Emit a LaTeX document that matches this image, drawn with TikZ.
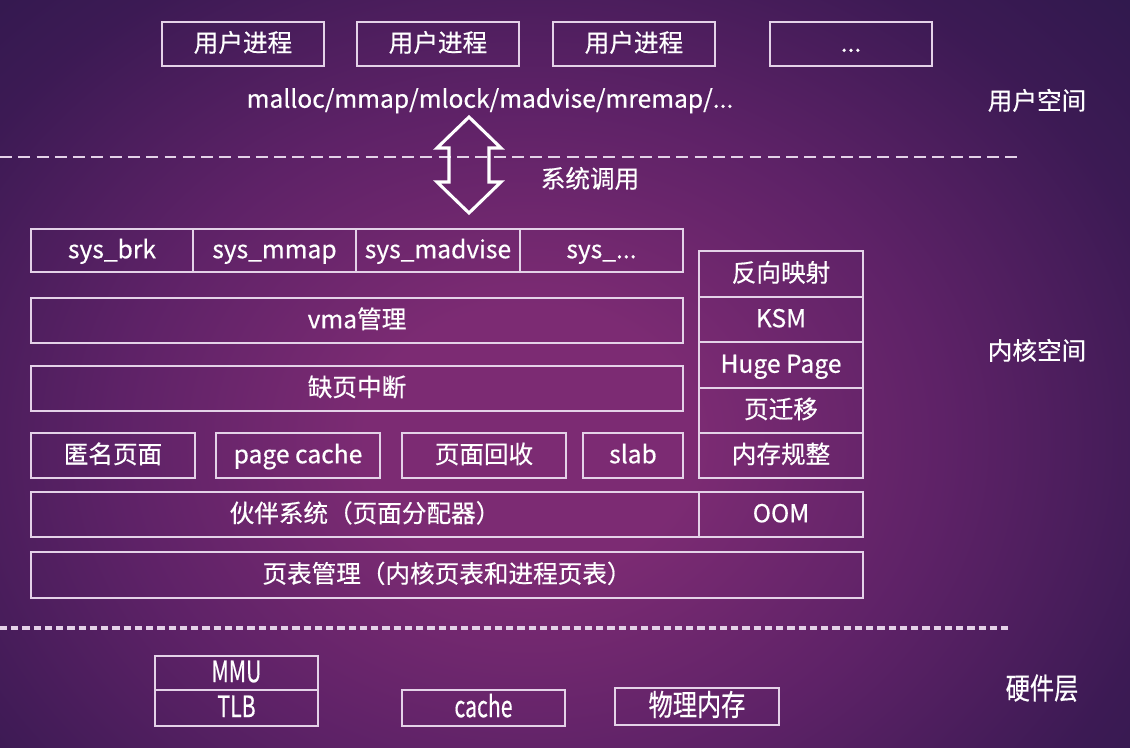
\documentclass[tikz,border=0pt]{standalone}
\usepackage{fontspec}
\setmainfont{Noto Sans CJK SC}[FakeBold=0.5]
\usetikzlibrary{fit}
\definecolor{lc}{HTML}{E4D2E8}
\definecolor{bgin}{HTML}{7C2B73}
\definecolor{bgmid}{HTML}{5E2267}
\definecolor{bgedge}{HTML}{3C1A54}
\definecolor{bgout}{HTML}{231746}
\pgfdeclareradialshading{bgshade}{\pgfpoint{0bp}{0bp}}{color(0bp)=(bgin); color(4bp)=(bgin); color(10bp)=(bgmid); color(16bp)=(bgedge); color(24bp)=(bgout); color(50bp)=(bgout)}
\newcommand\mylbl{\fontsize{17.5}{20}\selectfont}
\newcommand\myhw{\fontsize{21}{24}\selectfont}
\tikzset{
  box/.style={draw=lc, line width=1.5pt, inner sep=0pt},
  txt/.style={text=white, font=\mylbl, inner sep=0pt, text height=14pt, text depth=3pt},
  hwtxt/.style={text=white, font=\myhw, inner sep=0pt, xscale=0.82, text height=16pt, text depth=3pt},
  hwlat/.style={text=white, font=\myhw, inner sep=0pt, xscale=0.72, text height=16pt, text depth=3pt},
  sepline/.style={draw=lc, line width=1.6pt, dash pattern=on 8.5pt off 4.5pt},
  sepline2/.style={draw=lc, line width=2.2pt, dash pattern=on 5pt off 3pt},
  bigarrow/.style={draw=white, line width=2.2pt, line join=miter}
}
\begin{document}
\begin{tikzpicture}[x=0.025cm,y=-0.025cm]
\useasboundingbox (0,0) rectangle (1130,748);
\begin{scope}
\clip (0,0) rectangle (1130,748);
\shade[shading=bgshade] (-500,-400) rectangle (1560,1280);
\end{scope}

% user space
\node[box, fit={(162,22) (324,66)}] (u1) {};
\node[txt] at (u1.center) {用户进程};
\node[box, fit={(357,22) (519,66)}] (u2) {};
\node[txt] at (u2.center) {用户进程};
\node[box, fit={(553,22) (715,66)}] (u3) {};
\node[txt] at (u3.center) {用户进程};
\node[box, fit={(770,22) (932,66)}] (u4) {};
\node[txt] at (u4.center) {...};
\node[txt] (api) at (490,100) {malloc/mmap/mlock/madvise/mremap/...};
\node[txt] (us) at (1037,102) {用户空间};

% separator 1
\coordinate (s1a) at (0,157);
\coordinate (s1b) at (1018,157);
\draw[sepline] (s1a) -- (s1b);

% system call arrow
\coordinate (ar) at (469,165);
\begin{scope}[shift={(ar)}]
\draw[bigarrow] (0,-48) -- (32,-17) -- (20,-17) -- (20,17) -- (32,17) -- (0,48)
  -- (-32,17) -- (-20,17) -- (-20,-17) -- (-32,-17) -- cycle;
\end{scope}
\node[txt] (sc) at (590,180) {系统调用};

% syscalls row
\node[box, fit={(31,229) (193,272)}] (s1) {};
\node[txt] at (s1.center) {sys\_brk};
\node[box, fit={(193,229) (356,272)}] (s2) {};
\node[txt] at (s2.center) {sys\_mmap};
\node[box, fit={(356,229) (520,272)}] (s3) {};
\node[txt] at (s3.center) {sys\_madvise};
\node[box, fit={(520,229) (683,272)}] (s4) {};
\node[txt] at (s4.center) {sys\_...};

\node[box, fit={(31,298) (683,343)}] (vma) {};
\node[txt] at (vma.center) {vma管理};
\node[box, fit={(31,366) (683,411)}] (pf) {};
\node[txt] at (pf.center) {缺页中断};

\node[box, fit={(31,433) (195,478)}] (anon) {};
\node[txt] at (anon.center) {匿名页面};
\node[box, fit={(216,433) (380,478)}] (pc) {};
\node[txt] at (pc.center) {page cache};
\node[box, fit={(402,433) (566,478)}] (rec) {};
\node[txt] at (rec.center) {页面回收};
\node[box, fit={(583,433) (683,478)}] (slab) {};
\node[txt] at (slab.center) {slab};

% right stack
\node[box, fit={(699,251) (863,297)}] (rmap) {};
\node[txt] at (rmap.center) {反向映射};
\node[box, fit={(699,297) (863,342)}] (ksm) {};
\node[txt] at (ksm.center) {KSM};
\node[box, fit={(699,342) (863,388)}] (huge) {};
\node[txt] at (huge.center) {Huge Page};
\node[box, fit={(699,388) (863,433)}] (mig) {};
\node[txt] at (mig.center) {页迁移};
\node[box, fit={(699,433) (863,478)}] (comp) {};
\node[txt] at (comp.center) {内存规整};

\node[box, fit={(31,492) (699,537)}] (buddy) {};
\node[txt] at (buddy.center) {伙伴系统（页面分配器）};
\node[box, fit={(699,492) (863,537)}] (oom) {};
\node[txt] at (oom.center) {OOM};
\node[box, fit={(31,552) (863,598)}] (pt) {};
\node[txt] at (pt.center) {页表管理（内核页表和进程页表）};

\node[txt] (ks) at (1037,352) {内核空间};

% separator 2
\coordinate (s2a) at (0,628);
\coordinate (s2b) at (1010,628);
\draw[sepline2] (s2a) -- (s2b);

% hardware
\node[box, fit={(155,656) (318,690)}] (mmu) {};
\node[hwlat] at (mmu.center) {MMU};
\node[box, fit={(155,690) (318,726)}] (tlb) {};
\node[hwlat] at (tlb.center) {TLB};
\node[box, fit={(402,690) (565,726)}] (cache) {};
\node[hwlat] at (cache.center) {cache};
\node[box, fit={(615,688) (779,725)}] (mem) {};
\node[hwtxt] at (mem.center) {物理内存};
\node[hwtxt] (hw) at (1042,690) {硬件层};
\end{tikzpicture}
\end{document}
